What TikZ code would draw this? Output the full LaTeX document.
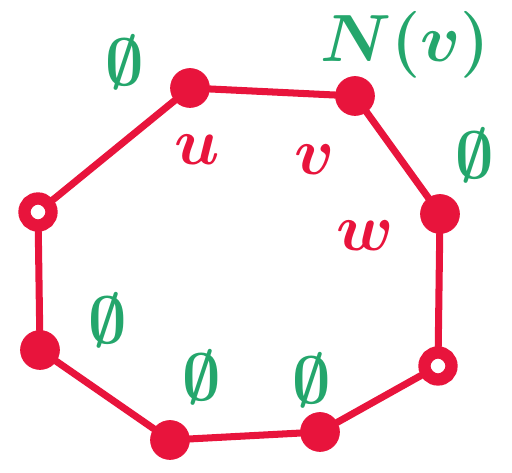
\RequirePackage{fix-cm}
\documentclass[tikz,border=0pt]{standalone}
\definecolor{penred}{RGB}{232,20,60}
\definecolor{pengreen}{RGB}{36,166,108}
\begin{document}
\begin{tikzpicture}[x=0.02cm, y=-0.02cm,
  full/.style={circle, fill=penred, draw=penred, inner sep=0pt, minimum size=0.78cm},
  hollow/.style={circle, draw=penred, line width=7pt, inner sep=0pt, minimum size=0.54cm},
  edge/.style={draw=penred, line width=4pt, line cap=round},
  redlab/.style={text=penred, font=\fontsize{38}{40}\selectfont\boldmath},
  greenlab/.style={text=pengreen, font=\fontsize{38}{40}\selectfont\boldmath}]
\useasboundingbox (0,0) rectangle (512,473);
% cycle vertices
\node[full]   (v1) at (190,88)  {};
\node[full]   (v2) at (355,96)  {};
\node[full]   (v3) at (440,214) {};
\node[hollow] (v4) at (438,366) {};
\node[full]   (v5) at (320,432) {};
\node[full]   (v6) at (170,440) {};
\node[full]   (v7) at (40,350)  {};
\node[hollow] (v8) at (38,212)  {};
% cycle edges
\draw[edge] (v1) -- (v2);
\draw[edge] (v2) -- (v3);
\draw[edge] (v3) -- (v4);
\draw[edge] (v4) -- (v5);
\draw[edge] (v5) -- (v6);
\draw[edge] (v6) -- (v7);
\draw[edge] (v7) -- (v8);
\draw[edge] (v8) -- (v1);
% vertex names
\node[redlab] (u) at (197,150) {$u$};
\node[redlab] (v) at (315,160) {$v$};
\node[redlab] (w) at (365,236) {$w$};
% neighbourhood labels
\node[greenlab] (e1) at (125,62)  {$\emptyset$};
\node[greenlab] (nv) at (405,45)  {$N(v)$};
\node[greenlab] (e2) at (475,155) {$\emptyset$};
\node[greenlab] (e3) at (108,320) {$\emptyset$};
\node[greenlab] (e4) at (202,377) {$\emptyset$};
\node[greenlab] (e5) at (312,380) {$\emptyset$};
\end{tikzpicture}
\end{document}
